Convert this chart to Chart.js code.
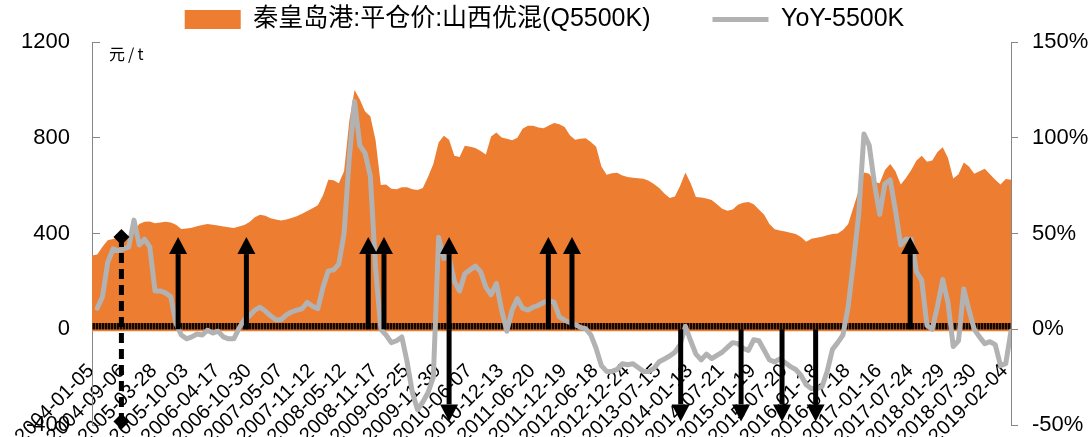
<!DOCTYPE html>
<html lang="zh-CN">
<head>
<meta charset="UTF-8">
<title>秦皇岛港 平仓价 山西优混</title>
<script src="https://cdn.jsdelivr.net/npm/chart.js"></script>
<style>
    body { margin: 0; background: #fff; }
    #wrap { width: 1089px; height: 437px; }
</style>
</head>
<body>
<div id="wrap"><canvas id="grafico" width="1089" height="437"></canvas></div>
<script>
    // datas mostradas no eixo x (um rótulo a cada 6 pontos)
    const tickDates = ['2004-01-05', '2004-09-06', '2005-03-28', '2005-10-03', '2006-04-17', '2006-10-30',
        '2007-05-07', '2007-11-12', '2008-05-12', '2008-11-17', '2009-05-25', '2009-11-30', '2010-06-07',
        '2010-12-13', '2011-06-20', '2011-12-19', '2012-06-18', '2012-12-24', '2013-07-15', '2014-01-13',
        '2014-07-21', '2015-01-19', '2015-07-20', '2016-01-18', '2016-07-18', '2017-01-16', '2017-07-24',
        '2018-01-29', '2018-07-30', '2019-02-04'];
    const labelEvery = 6;

    // 平仓价 (元/t)
    const price = [
        308, 312, 345, 372, 377, 382, 387, 392, 410, 440,
        449, 450, 443, 446, 449, 446, 437, 419, 421, 424,
        430, 436, 440, 437, 433, 429, 426, 423, 429, 436,
        448, 468, 478, 474, 464, 459, 454, 459, 465, 472,
        482, 494, 505, 518, 560, 625, 622, 610, 660, 870,
        1000, 960, 910, 890, 790, 603, 605, 587, 585, 593,
        593, 585, 582, 590, 637, 690, 780, 808, 792, 725,
        720, 767, 762, 757, 745, 730, 805, 822, 801, 796,
        790, 800, 838, 850, 850, 843, 840, 851, 862, 856,
        845, 810, 792, 796, 798, 782, 762, 680, 645, 652,
        654, 642, 636, 633, 631, 629, 620, 607, 590, 567,
        548, 555, 600, 655, 610, 553, 550, 546, 540, 522,
        503, 495, 500, 520, 528, 532, 522, 500, 478, 440,
        418, 413, 408, 403, 398, 385, 366, 378, 382, 386,
        393, 398, 400, 415, 440, 510, 580, 655, 650, 615,
        610, 665, 690, 660, 605, 632, 665, 705, 725, 700,
        705, 740, 760, 715, 630, 648, 697, 680, 650, 660,
        670, 648, 625, 605, 628, 625
    ];

    // 同比 (%)
    const yoy = [
        null, 11, 17, 35, 42, 41, 42, 43, 57, 44,
        47, 43, 20, 20, 19, 17, 3, -3, -5, -4,
        -2.5, -3, -0.5, -2, -1, -4, -5, -5, 0.5, 5,
        7, 10, 11.5, 9.5, 7, 5, 5, 7.5, 9, 10,
        10.7, 14, 12, 10.7, 22, 30.5, 31, 34, 50, 90,
        119, 96, 92, 80, 32, 0, -3, -7, -6, -4,
        -17, -33, -42, -38, -33, -25, 48, 37, 38, 25,
        20, 29, 31, 33, 30, 22, 18, 24, 10, -1,
        10, 16, 11, 10, 11.5, 12.5, 14, 15, 14, 6.4,
        4.7, 3.5, 2.5, 1, 0.3, -3, -10, -19, -22, -22,
        -21, -18, -18.5, -18, -20, -22, -22, -20.5, -17, -15.5,
        -14, -12, -8, 1.5, -6, -13, -16, -13, -15.3, -13.6,
        -12, -9.5, -7, -7.5, -10, -11, -5.5, -6, -11, -16,
        -17, -15.5, -17.5, -19.5, -21, -24, -29, -31, -31, -30,
        -22, -10.5, -7, -3, 12, 35, 60, 102, 96, 76,
        60, 76, 78, 62, 44, 47, 47, 30, 25.5, 2,
        0, 12, 26, 14, -9, -6, 21, 10, 0, -4,
        -7.5, -6.5, -8, -19, -18, -1
    ];

    // setas de sinal (posição no eixo x, mesma unidade dos pontos)
    const upArrows = [16.4, 29.4, 52.6, 55.6, 86.9, 91.4, 155.8];
    const downArrows = [112.1, 123.6, 131.4, 137.8];
    const bothArrows = [68.0];
    const dashedMarks = [5.6];
    const arrowReach = 385;   // 元/t
    const bandLevel = 12.5;   // faixa preta junto do zero

    const fonteEixo = { family: "'Liberation Sans', Arial, sans-serif", size: 22 };
    const corEixo = '#868686';

    function listra() {
        const c = document.createElement('canvas');
        c.width = 3; c.height = 1;
        const g = c.getContext('2d');
        g.fillStyle = '#120800';
        g.fillRect(0, 0, 3, 1);
        g.fillStyle = '#7a3d14';
        g.fillRect(2, 0, 1, 1);
        return g.createPattern(c, 'repeat');
    }

    function seta(ctx, px, from, tip) {
        const dir = tip < from ? 1 : -1;
        const head = 17, half = 9;
        ctx.beginPath();
        ctx.moveTo(px, from);
        ctx.lineTo(px, tip + dir * head);
        ctx.stroke();
        ctx.beginPath();
        ctx.moveTo(px, tip);
        ctx.lineTo(px - half, tip + dir * head);
        ctx.lineTo(px + half, tip + dir * head);
        ctx.closePath();
        ctx.fill();
    }

    function losango(ctx, px, py, r) {
        ctx.beginPath();
        ctx.moveTo(px, py - r);
        ctx.lineTo(px + r, py);
        ctx.lineTo(px, py + r);
        ctx.lineTo(px - r, py);
        ctx.closePath();
        ctx.fill();
    }

    const marcadores = {
        id: 'marcadores',
        afterDatasetsDraw(chart) {
            const { ctx, chartArea, scales: { x, y } } = chart;
            const base = y.getPixelForValue(0);
            const topo = y.getPixelForValue(arrowReach);
            const fundo = y.getPixelForValue(-arrowReach);
            ctx.save();
            ctx.fillStyle = '#000';
            ctx.strokeStyle = '#000';
            ctx.lineWidth = 5;
            ctx.lineCap = 'butt';
            upArrows.forEach(v => seta(ctx, x.getPixelForValue(v), base, topo));
            downArrows.forEach(v => seta(ctx, x.getPixelForValue(v), base, fundo));
            bothArrows.forEach(v => {
                const px = x.getPixelForValue(v);
                seta(ctx, px, base, topo);
                seta(ctx, px, base, fundo);
            });
            dashedMarks.forEach(v => {
                const px = x.getPixelForValue(v);
                ctx.setLineDash([10, 6]);
                ctx.beginPath();
                ctx.moveTo(px, topo);
                ctx.lineTo(px, fundo);
                ctx.stroke();
                ctx.setLineDash([]);
                losango(ctx, px, topo, 8);
                losango(ctx, px, fundo, 8);
            });
            // unidade do eixo esquerdo
            ctx.font = "16px 'Noto Sans CJK SC', sans-serif";
            ctx.letterSpacing = '3px';
            ctx.textBaseline = 'top';
            ctx.textAlign = 'left';
            ctx.fillText('元/t', chartArea.left + 17, chartArea.top + 4);
            ctx.restore();
        }
    };

    // sem folga vertical extra nos eixos y
    function semFolga(s, largura) {
        s.width = largura;
        s.paddingTop = 0;
        s.paddingBottom = 0;
    }

    const dados = {
        datasets: [{
            label: '秦皇岛港:平仓价:山西优混(Q5500K)',
            type: 'line',
            data: price.map((v, i) => ({ x: i, y: v })),
            yAxisID: 'y',
            backgroundColor: '#ed7d31',
            borderColor: '#ed7d31',
            borderWidth: 0,
            fill: { value: -8 },
            pointRadius: 0,
            pointStyle: 'rect',
            tension: 0,
            order: 3
        }, {
            label: 'YoY-5500K',
            type: 'line',
            data: yoy.map((v, i) => ({ x: i, y: v })),
            yAxisID: 'y1',
            borderColor: '#b2b2b2',
            backgroundColor: '#b2b2b2',
            borderWidth: 5,
            borderCapStyle: 'round',
            borderJoinStyle: 'round',
            fill: false,
            pointRadius: 0,
            pointStyle: 'line',
            tension: 0,
            order: 1
        }, {
            label: 'zero',
            type: 'line',
            data: [{ x: 0, y: bandLevel }, { x: price.length - 1, y: bandLevel }],
            yAxisID: 'y',
            borderColor: listra(),
            borderWidth: 6.5,
            borderCapStyle: 'butt',
            fill: false,
            pointRadius: 0,
            order: 2
        }]
    };

    const config = {
        type: 'line',
        data: dados,
        options: {
            responsive: false,
            animation: false,
            devicePixelRatio: 1,
            layout: { padding: { top: -55, bottom: 12, left: 0, right: 0 } },
            plugins: {
                tooltip: { enabled: false },
                legend: {
                    position: 'top',
                    labels: {
                        usePointStyle: true,
                        pointStyleWidth: 56,
                        boxHeight: 19,
                        padding: 62,
                        color: '#000',
                        font: { family: "'Liberation Sans', 'Noto Sans CJK SC', sans-serif", size: 25 },
                        filter: item => item.datasetIndex < 2,
                        sort: (a, b) => a.datasetIndex - b.datasetIndex
                    }
                }
            },
            scales: {
                x: {
                    type: 'linear',
                    position: { y: 0 },
                    min: 0,
                    max: price.length - 1,
                    grid: { display: false },
                    border: { display: false },
                    afterBuildTicks: s => {
                        s.ticks = tickDates.map((d, k) => ({ value: k * labelEvery }));
                    },
                    afterFit: s => { s.paddingLeft = 0; s.paddingRight = 0; s.height = 0; },
                    ticks: {
                        autoSkip: false,
                        minRotation: 45,
                        maxRotation: 45,
                        padding: 22,
                        labelOffset: -1,
                        color: '#000',
                        font: { family: "'Liberation Sans', Arial, sans-serif", size: 20 },
                        callback: (v, i) => tickDates[i]
                    }
                },
                y: {
                    position: 'left',
                    min: -400,
                    max: 1200,
                    afterFit: s => semFolga(s, 92),
                    grid: { drawOnChartArea: false, tickLength: -8, color: corEixo },
                    border: { color: corEixo },
                    ticks: { stepSize: 400, padding: 30, color: '#000', font: fonteEixo, callback: v => String(v) }
                },
                y1: {
                    position: 'right',
                    min: -50,
                    max: 150,
                    afterFit: s => semFolga(s, 78),
                    grid: { drawOnChartArea: false, tickLength: 7, color: corEixo },
                    border: { color: corEixo },
                    ticks: { stepSize: 50, padding: 14, color: '#000', font: fonteEixo, callback: v => v + '%' }
                }
            }
        },
        plugins: [marcadores]
    };

    const grafico = new Chart(document.querySelector('#grafico'), config);
</script>
</body>
</html>
